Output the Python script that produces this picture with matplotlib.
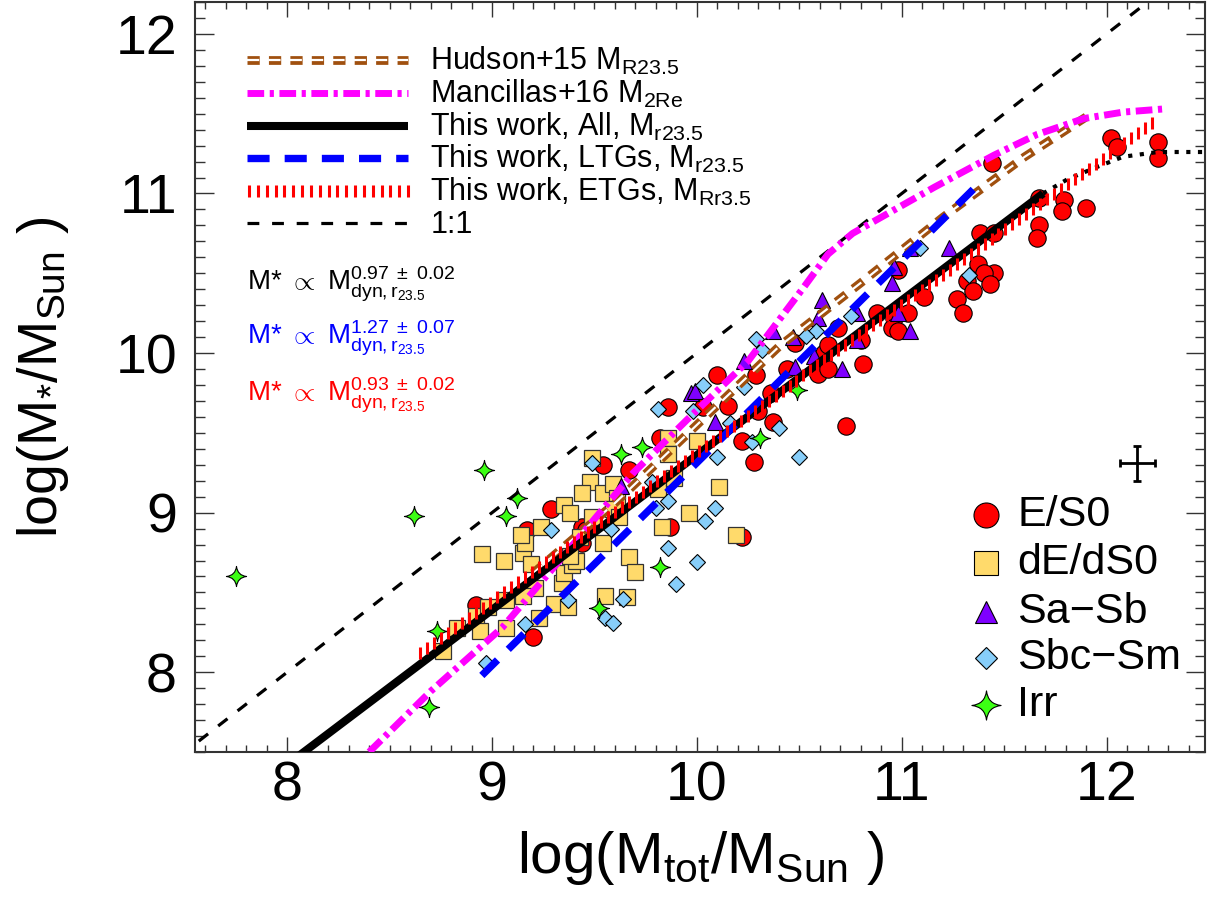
import numpy as np
import matplotlib
matplotlib.use('Agg')
import matplotlib.pyplot as plt
from matplotlib.path import Path
from matplotlib.ticker import MultipleLocator

plt.rcParams['font.family'] = ['Liberation Sans', 'DejaVu Sans']
plt.rcParams['mathtext.fontset'] = 'custom'
plt.rcParams['mathtext.rm'] = 'Liberation Sans'
plt.rcParams['mathtext.it'] = 'Liberation Sans:italic'
plt.rcParams['mathtext.bf'] = 'Liberation Sans:bold'

# ---- data (log M_tot, log M_*) ----
es0_x = [8.92, 9.20, 9.29, 9.17, 9.44, 9.46, 9.44, 9.54, 9.67, 9.86, 9.82, 9.87,
         10.10, 10.29, 10.03, 10.15, 10.22, 10.28, 10.37, 10.73, 10.30, 10.36,
         10.44, 10.59, 10.64, 10.81, 10.62, 10.64, 10.22, 10.48, 10.69, 10.88,
         10.96, 10.95, 10.98, 11.03, 10.80, 10.98, 11.11, 11.27, 11.30, 11.32,
         11.35, 11.37, 11.38, 11.44, 11.45, 11.67, 11.79, 11.78, 11.90, 11.67,
         11.66, 12.02, 12.05, 12.25, 12.25, 11.45, 11.40, 11.43]
es0_y = [8.42, 8.22, 9.02, 8.89, 8.91, 8.89, 8.81, 9.30, 9.27, 9.66, 9.47, 8.91,
         9.86, 9.86, 9.66, 9.67, 9.45, 9.32, 9.57, 9.54, 9.64, 9.75,
         9.90, 9.87, 9.90, 9.93, 10.00, 10.05, 8.85, 10.06, 10.16, 10.25,
         10.22, 10.16, 10.14, 10.25, 10.08, 10.52, 10.35, 10.34, 10.25, 10.45,
         10.39, 10.56, 10.75, 11.19, 10.75, 10.97, 10.96, 10.89, 10.91, 10.80,
         10.72, 11.35, 11.29, 11.32, 11.22, 10.50, 10.50, 10.43]

de_x = [8.76, 8.83, 8.95, 8.92, 8.94, 8.98, 9.06, 9.15, 9.16, 9.19, 9.21, 9.15,
        9.07, 9.07, 9.23, 9.30, 9.37, 9.34, 9.35, 9.39, 9.41, 9.38, 9.54, 9.55,
        9.66, 9.67, 9.70, 9.14, 9.24, 9.35, 9.38, 9.49, 9.48, 9.44, 9.54, 9.59,
        9.61, 9.59, 9.62, 9.49, 9.86, 9.86, 9.81, 9.89, 9.96, 9.83, 10.00, 10.11,
        10.19, 9.43]
de_y = [8.13, 8.28, 8.74, 8.35, 8.26, 8.41, 8.70, 8.75, 8.81, 8.68, 8.53, 8.48,
        8.45, 8.28, 8.34, 8.43, 8.41, 8.56, 8.62, 8.67, 8.70, 8.73, 8.81, 8.48,
        8.47, 8.72, 8.63, 8.86, 8.91, 9.05, 9.00, 8.97, 9.19, 9.12, 9.12, 9.18,
        9.09, 9.02, 8.97, 9.34, 9.47, 9.37, 9.15, 9.22, 9.00, 8.91, 9.45, 9.16,
        8.86, 8.85]

sab_x = [9.63, 9.97, 9.99, 10.09, 10.23, 10.37, 10.47, 10.61, 10.59, 10.78, 10.98,
         11.04, 10.78, 10.95, 10.96, 11.04, 11.23, 10.48, 10.71, 10.57]
sab_y = [9.17, 9.75, 9.76, 9.57, 9.95, 10.14, 10.10, 10.33, 10.22, 10.25, 10.25,
         10.14, 10.08, 10.44, 10.54, 10.66, 10.66, 9.91, 9.90, 9.98]

sbc_x = [8.97, 9.16, 9.37, 9.55, 9.59, 9.64, 9.86, 9.90, 10.00, 9.29, 9.58, 9.49,
         9.81, 9.78, 9.80, 9.86, 9.98, 10.03, 10.23, 10.16, 10.27, 10.10, 10.40,
         10.50, 10.09, 10.04, 10.29, 10.32, 10.58, 10.53, 10.75, 11.09, 11.33]
sbc_y = [8.06, 8.30, 8.45, 8.34, 8.31, 8.46, 8.78, 8.55, 8.69, 8.89, 8.90, 9.31,
         9.65, 9.19, 9.03, 9.07, 9.64, 9.80, 9.79, 9.56, 9.44, 9.35, 9.53,
         9.35, 9.03, 8.95, 10.09, 10.02, 10.14, 10.11, 10.23, 10.66, 10.49]

irr_x = [7.75, 8.62, 8.73, 8.69, 8.96, 9.12, 9.07, 9.52, 9.82, 9.63, 9.73, 10.31, 10.49]
irr_y = [8.60, 8.98, 8.26, 7.78, 9.27, 9.09, 8.98, 8.40, 8.66, 9.37, 9.41, 9.47, 9.77]

# fits from this work: slope, intercept, x range
all_fit = (0.97, -0.339, 8.0, 11.69)
ltg_fit = (1.27, -3.387, 8.95, 11.40)
etg_fit = (0.93, 0.076, 8.65, 12.25)
all_ext_x = [11.69, 11.81, 11.96, 12.08, 12.25, 12.48]
all_ext_y = [11.00, 11.09, 11.17, 11.23, 11.26, 11.26]

# literature relations
hud_x = [9.20, 9.60, 10.00, 10.40, 10.80, 11.20, 11.60, 11.90]
hud_y = [8.62, 9.06, 9.55, 10.04, 10.44, 10.85, 11.23, 11.48]
man_x = [8.40, 8.70, 9.05, 9.33, 9.69, 9.95, 10.25, 10.52, 10.64, 10.76, 11.16,
         11.45, 11.66, 11.89, 12.08, 12.28]
man_y = [7.50, 7.88, 8.28, 8.70, 9.25, 9.58, 9.95, 10.41, 10.62, 10.75, 11.04,
         11.24, 11.37, 11.47, 11.51, 11.53]

# typical error bar
err_x, err_y, err_dx, err_dy = 12.15, 9.31, 0.085, 0.11

# 4-pointed star marker for Irr
star = Path([(0, 1), (0.1, 0.1), (1, 0), (0.1, -0.1), (0, -1), (-0.1, -0.1),
             (-1, 0), (-0.1, 0.1), (0, 1), (0, 1)],
            [Path.MOVETO] + [Path.CURVE3] * 8 + [Path.CLOSEPOLY])

BROWN = '#A0500F'
MAGENTA = '#FF00FF'

fig = plt.figure(figsize=(12.18, 9.22), dpi=100)
ax = fig.add_axes([195 / 1218, 170 / 922, 1010 / 1218, 750 / 922])

# points
pt = dict(linestyle='none', markeredgecolor='k', markeredgewidth=0.8)
ax.plot(es0_x, es0_y, marker='o', ms=12.5, color='#FF0000', zorder=3, **pt)
ax.plot(de_x, de_y, marker='s', ms=12, color='#FFDA6B', zorder=3.1,
        linestyle='none', markeredgecolor='#333333', markeredgewidth=0.9)
ax.plot(sab_x, sab_y, marker='^', ms=12, color='#7F00FF', zorder=3.2, **pt)
ax.plot(sbc_x, sbc_y, marker='D', ms=8, color='#87CEFA', zorder=3.3, **pt)
ax.plot(irr_x, irr_y, marker=star, ms=14.5, color='#3CFF14', zorder=3.4, **pt)

# lines
xx = np.linspace(7.0, 13.0, 10)
ax.plot(xx, xx, color='k', lw=2.3, dashes=(3.7, 4.0), zorder=4)
ax.plot(hud_x, hud_y, color=BROWN, lw=6.3, dashes=(1.4, 1.05), zorder=4.1)
ax.plot(hud_x, hud_y, color='white', lw=1.6, dashes=(5.5, 4.1), zorder=4.2)
ax.plot(man_x, man_y, color=MAGENTA, lw=5, dashes=(2.4, 0.8, 0.6, 0.8), zorder=4.3)

s, b, x0, x1 = all_fit
ax.plot([x0, x1], [s * x0 + b, s * x1 + b], color='k', lw=5.8,
        solid_capstyle='butt', zorder=4.4)
ax.plot(all_ext_x, all_ext_y, color='k', lw=3, dashes=(1.0, 1.8), zorder=4.4)
s, b, x0, x1 = ltg_fit
ax.plot([x0, x1], [s * x0 + b, s * x1 + b], color='#0000FF', lw=5.3,
        dashes=(3.0, 2.05), zorder=4.5)
s, b, x0, x1 = etg_fit
ex = np.arange(x0, x1, 0.034)
ax.plot(ex, s * ex + b, linestyle='none', marker='|', ms=8.5, mew=2.2,
        color='#FF0000', zorder=4.6)

ax.errorbar(err_x, err_y, xerr=err_dx, yerr=err_dy, color='k', lw=2,
            capsize=3, capthick=2, zorder=5)

# top-left legend drawn by hand
tr = ax.transAxes
lx0, lx1, tx = 0.0515, 0.211, 0.233
rows = [0.923, 0.879, 0.835, 0.792, 0.748, 0.705]
labels = ['Hudson+15 M$_{\\rm R23.5}$', 'Mancillas+16 M$_{\\rm 2Re}$',
          'This work, All, M$_{\\rm r23.5}$', 'This work, LTGs, M$_{\\rm r23.5}$',
          'This work, ETGs, M$_{\\rm Rr3.5}$', '1:1']
ax.plot([lx0, lx1], [rows[0]] * 2, color=BROWN, lw=6.3, dashes=(1.4, 1.05), transform=tr)
ax.plot([lx0, lx1], [rows[0]] * 2, color='white', lw=1.6, dashes=(5.5, 4.1), transform=tr)
ax.plot([lx0, lx1], [rows[1]] * 2, color=MAGENTA, lw=5, dashes=(2.4, 0.8, 0.6, 0.8), transform=tr)
ax.plot([lx0, lx1], [rows[2]] * 2, color='k', lw=5.8, solid_capstyle='butt', transform=tr)
ax.plot([lx0, lx1], [rows[3]] * 2, color='#0000FF', lw=5.3, dashes=(3.0, 2.05), transform=tr)
ax.plot(np.linspace(lx0 + 0.002, lx1, 19), [rows[4]] * 19, linestyle='none',
        marker='|', ms=8.5, mew=2.2, color='#FF0000', transform=tr)
ax.plot([lx0, lx1], [rows[5]] * 2, color='k', lw=2.3, dashes=(3.7, 4.0), transform=tr)
for r, lab in zip(rows, labels):
    ax.text(tx, r - 0.0135, lab, transform=tr, fontsize=22, va='baseline')

# slope annotations
ann = [('0.97', '0.02', 'k', 0.616), ('1.27', '0.07', '#0000FF', 0.543),
       ('0.93', '0.02', '#FF0000', 0.467)]
for a, e, c, yb in ann:
    ax.text(0.0515, yb, r'M* $\propto$ $\mathrm{M}^{%s\ \pm\ %s}_{\mathrm{dyn,r_{23.5}}}$' % (a, e),
            transform=tr, fontsize=20, color=c, va='baseline')

# bottom-right legend drawn by hand
mx, mtx = 0.783, 0.814
lrows = [0.316, 0.252, 0.187, 0.125, 0.063]
lstyle = [('o', 18, '#FF0000', 'E/S0'), ('s', 17, '#FFDA6B', 'dE/dS0'),
          ('^', 16, '#7F00FF', 'Sa\u2212Sb'), ('D', 11.5, '#87CEFA', 'Sbc\u2212Sm'),
          (star, 21, '#3CFF14', 'Irr')]
for r, (m, sz, c, lab) in zip(lrows, lstyle):
    ax.plot([mx], [r], marker=m, ms=sz, color=c, markeredgecolor='k',
            markeredgewidth=0.8, transform=tr, clip_on=False)
    ax.text(mtx, r, lab, transform=tr, fontsize=31, va='center')

ax.set_xlim(7.55, 12.48)
ax.set_ylim(7.5, 12.2)
ax.xaxis.set_major_locator(MultipleLocator(1))
ax.xaxis.set_minor_locator(MultipleLocator(0.1))
ax.yaxis.set_major_locator(MultipleLocator(1))
ax.yaxis.set_minor_locator(MultipleLocator(0.1))
ax.tick_params(which='both', direction='in', top=True, right=True, width=1,
               color='#333333', labelsize=40)
ax.tick_params(axis='x', which='major', length=11, pad=6)
ax.tick_params(axis='x', which='minor', length=5)
ax.tick_params(axis='y', which='major', length=14, pad=13)
ax.tick_params(axis='y', which='minor', length=7)
for sp in ax.spines.values():
    sp.set_linewidth(1.5)
    sp.set_color('#333333')

ax.set_xlabel('log(M$_{\\rm tot}$/M$_{\\rm Sun}$ )', fontsize=42, labelpad=12)
ax.set_ylabel('log(M$_{*}$/M$_{\\rm Sun}$ )', fontsize=40, labelpad=32)

fig.savefig('out.png', dpi=100)
